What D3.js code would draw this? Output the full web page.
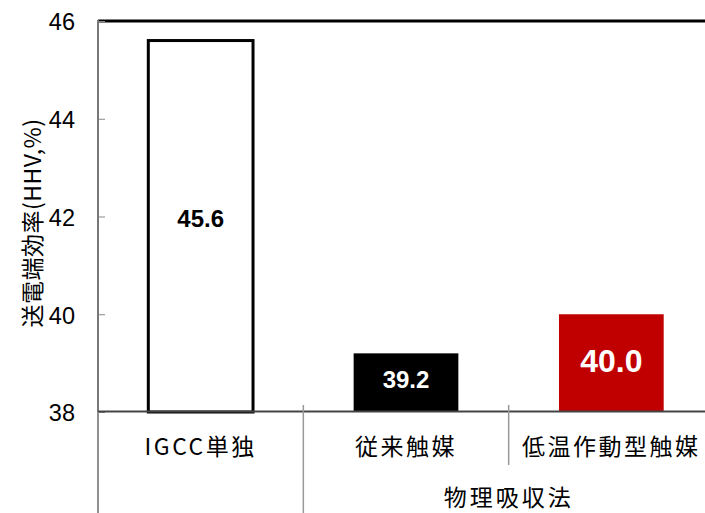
<!DOCTYPE html>
<html><head><meta charset="utf-8">
<script src="https://cdn.jsdelivr.net/npm/d3@7"></script>
<style>body{margin:0;background:#fff}svg{display:block}</style>
</head><body>
<script>
const categories = ["IGCC単独", "従来触媒", "低温作動型触媒"];
const values = [45.6, 39.2, 40.0];
const valueLabels = ["45.6", "39.2", "40.0"];
const yTicks = [38, 40, 42, 44, 46];
const groupLabel = "物理吸収法";
const yTitle = "送電端効率(HHV,%)";

(function () {
const W = 705, H = 513;
const pLeft = 98, pTop = 21, pBottom = 412, pRight = 714;
const jp = "'Noto Sans CJK JP', sans-serif";
const num = "'Liberation Sans', Arial, sans-serif";

const svg = d3.select("body").append("svg").attr("width", W).attr("height", H);

const x = d3.scaleBand().domain(categories).range([pLeft, pRight]).paddingInner(0.49).paddingOuter(0.245);
const y = d3.scaleLinear().domain([38, 46]).range([pBottom, pTop]);

// bars
const fills = ["#ffffff", "#000000", "#c00000"];
const strokes = ["#000000", "none", "none"];
svg.selectAll("rect.bar").data(values).enter().append("rect")
  .attr("class", "bar")
  .attr("x", (d, i) => x(categories[i]))
  .attr("width", x.bandwidth())
  .attr("y", d => y(d))
  .attr("height", d => pBottom - y(d))
  .attr("fill", (d, i) => fills[i])
  .attr("stroke", (d, i) => strokes[i])
  .attr("stroke-width", 3);

// top border
svg.append("line").attr("x1", pLeft).attr("x2", W).attr("y1", pTop).attr("y2", pTop)
  .attr("stroke", "#000").attr("stroke-width", 3);

// left axis
const yAxis = d3.axisRight(y).tickValues(yTicks).tickSize(7).tickFormat("");
const ga = svg.append("g").attr("transform", `translate(${pLeft},0)`).call(yAxis);
ga.select(".domain").remove();
ga.selectAll(".tick line").attr("stroke", "#888").attr("stroke-width", 1);
svg.append("line").attr("x1", pLeft).attr("x2", pLeft).attr("y1", pTop - 1).attr("y2", H)
  .attr("stroke", "#777").attr("stroke-width", 2);

// tick labels
svg.selectAll("text.ytick").data(yTicks).enter().append("text")
  .attr("class", "ytick")
  .attr("x", 75).attr("y", d => y(d) + 1).attr("dy", "0.36em")
  .attr("text-anchor", "end")
  .attr("font-family", num).attr("font-size", 23.5)
  .text(d => d);

// bottom axis
svg.append("line").attr("x1", pLeft).attr("x2", W).attr("y1", pBottom - 0.5).attr("y2", pBottom - 0.5)
  .attr("stroke", "#444").attr("stroke-width", 2);

// dividers
const step = x.step();
const dividers = [
  {x: pLeft + 0 * step, y1: pBottom, y2: H},
  {x: pLeft + 1 * step, y1: pBottom - 7, y2: H},
  {x: pLeft + 2 * step, y1: pBottom - 7, y2: 465}
];
svg.selectAll("line.div").data(dividers).enter().append("line")
  .attr("class", "div")
  .attr("x1", d => d.x).attr("x2", d => d.x).attr("y1", d => d.y1).attr("y2", d => d.y2)
  .attr("stroke", "#999").attr("stroke-width", 1.5);

// category labels
svg.selectAll("text.cat").data(categories).enter().append("text")
  .attr("class", "cat")
  .attr("x", d => x(d) + x.bandwidth() / 2).attr("y", 447).attr("dy", "0.36em")
  .attr("text-anchor", "middle")
  .attr("font-family", jp).attr("font-size", 23).attr("letter-spacing", 2.5)
  .text(d => d);

svg.append("text")
  .attr("x", pLeft + 1.5 * step + step / 2).attr("y", 498).attr("dy", "0.36em")
  .attr("text-anchor", "middle")
  .attr("font-family", jp).attr("font-size", 23).attr("letter-spacing", 3)
  .text(groupLabel);

// value labels
const lblColor = ["#000", "#fff", "#fff"];
const lblSize = [24, 24, 32];
svg.selectAll("text.val").data(values).enter().append("text")
  .attr("class", "val")
  .attr("x", (d, i) => x(categories[i]) + x.bandwidth() / 2)
  .attr("y", (d, i) => (y(d) + pBottom) / 2 - (i === 0 ? 8 : 3))
  .attr("dy", "0.36em")
  .attr("text-anchor", "middle")
  .attr("font-family", num).attr("font-weight", "bold")
  .attr("font-size", (d, i) => lblSize[i])
  .attr("fill", (d, i) => lblColor[i])
  .text((d, i) => valueLabels[i]);

// y title
svg.append("text")
  .attr("transform", `translate(33,223) rotate(-90)`)
  .attr("text-anchor", "middle").attr("dy", "0.36em")
  .attr("font-family", jp).attr("font-size", 23).attr("letter-spacing", 0.5)
  .text(yTitle);
})();
</script>
</body></html>
